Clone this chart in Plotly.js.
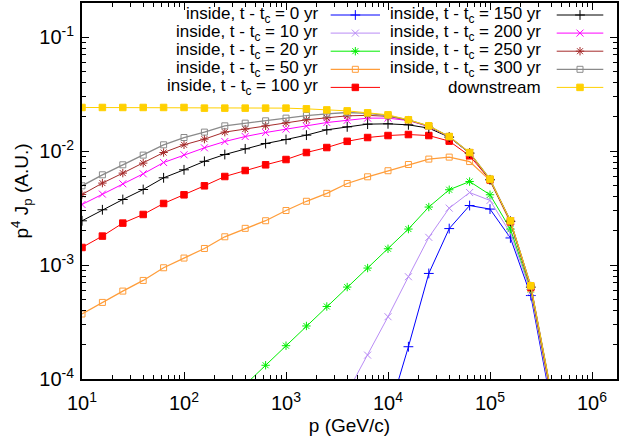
<!DOCTYPE html>
<html>
<head>
<meta charset="utf-8">
<script src="https://cdn.plot.ly/plotly-3.0.1.min.js"></script>
<style>html,body{margin:0;padding:0;background:#fff;}#chart{width:621px;height:441px;}</style>
</head>
<body>
<div id="chart"></div>
<script>
// momentum grid (GeV/c)
const P = [10, 15.85, 25.12, 39.81, 63.1, 100, 158.5, 251.2, 398.1, 631, 1000, 1585, 2512, 3981, 6310, 10000, 15850, 25120, 39810, 63100, 100000, 158500, 251200, 398100];

// p^4 J_p (A.U.)
const J_0 = [null,null,null,null,null,null,null,null,null,null,null,null,null,null,null, 4.8e-5, 1.92e-4, 8.44e-4, 2.09e-3, 3.33e-3, 3.10e-3, 1.73e-3, 5.4e-4, 6e-5];
const J_10 = [null,null,null,null,null,null,null,null,null,null,null,null,null, 7.6e-5, 1.62e-4, 3.52e-4, 7.9e-4, 1.75e-3, 3.16e-3, 4.33e-3, 3.69e-3, 1.91e-3, 5.8e-4, 6.5e-5];
const J_20 = [null,null,null,null,null,null,null,null, 8.9e-5, 1.32e-4, 1.96e-4, 2.92e-4, 4.33e-4, 6.41e-4, 9.41e-4, 1.39e-3, 2.07e-3, 3.23e-3, 4.58e-3, 5.41e-3, 4.14e-3, 2.07e-3, 6.1e-4, 7e-5];
const J_50 = [3.72e-4, 4.70e-4, 5.91e-4, 7.33e-4, 9.47e-4, 1.152e-3, 1.398e-3, 1.771e-3, 2.10e-3, 2.45e-3, 3.01e-3, 3.63e-3, 4.26e-3, 5.20e-3, 5.95e-3, 6.73e-3, 7.63e-3, 8.51e-3, 8.86e-3, 8.10e-3, 5.54e-3, 2.37e-3, 6.2e-4, 7e-5];
const J_100 = [1.427e-3, 1.796e-3, 2.335e-3, 2.779e-3, 3.471e-3, 4.136e-3, 4.961e-3, 5.986e-3, 6.758e-3, 7.583e-3, 8.439e-3, 9.72e-3, 1.075e-2, 1.219e-2, 1.316e-2, 1.370e-2, 1.398e-2, 1.370e-2, 1.224e-2, 9.10e-3, 5.6e-3, 2.40e-3, 6.4e-4, 7.4e-5];
const J_150 = [2.446e-3, 3.056e-3, 3.762e-3, 4.604e-3, 5.831e-3, 6.855e-3, 8.136e-3, 9.338e-3, 1.047e-2, 1.166e-2, 1.264e-2, 1.381e-2, 1.538e-2, 1.633e-2, 1.725e-2, 1.736e-2, 1.701e-2, 1.591e-2, 1.327e-2, 9.6e-3, 5.6e-3, 2.42e-3, 6.4e-4, 7.4e-5];
const J_200 = [3.401e-3, 4.195e-3, 5.167e-3, 6.323e-3, 7.943e-3, 9.28e-3, 1.069e-2, 1.214e-2, 1.343e-2, 1.456e-2, 1.560e-2, 1.657e-2, 1.782e-2, 1.863e-2, 1.948e-2, 1.948e-2, 1.855e-2, 1.643e-2, 1.335e-2, 9.65e-3, 5.65e-3, 2.43e-3, 6.5e-4, 7.5e-5];
const J_250 = [4.161e-3, 5.240e-3, 6.412e-3, 7.846e-3, 9.720e-3, 1.136e-2, 1.274e-2, 1.468e-2, 1.560e-2, 1.667e-2, 1.771e-2, 1.883e-2, 1.960e-2, 2.040e-2, 2.06e-2, 2.02e-2, 1.87e-2, 1.655e-2, 1.338e-2, 9.68e-3, 5.66e-3, 2.44e-3, 6.55e-4, 7.5e-5];
const J_300 = [4.961e-3, 6.196e-3, 7.583e-3, 9.224e-3, 1.136e-2, 1.316e-2, 1.468e-2, 1.667e-2, 1.760e-2, 1.844e-2, 1.948e-2, 2.053e-2, 2.125e-2, 2.182e-2, 2.14e-2, 2.05e-2, 1.88e-2, 1.66e-2, 1.34e-2, 9.7e-3, 5.67e-3, 2.44e-3, 6.55e-4, 7.6e-5];
const J_down = [0.02416, 0.02416, 0.02416, 0.02416, 0.02416, 0.02416, 0.02384, 0.02384, 0.02384, 0.02384, 0.02384, 0.0235, 0.0230, 0.02256, 0.02168, 0.02082, 0.01883, 0.01667, 0.01343, 0.00972, 0.00568, 0.002446, 0.000658, 7.6e-5];

const seriesNames = [
  'inside, t - t<sub>c</sub> = 0 yr', 'inside, t - t<sub>c</sub> = 10 yr', 'inside, t - t<sub>c</sub> = 20 yr',
  'inside, t - t<sub>c</sub> = 50 yr', 'inside, t - t<sub>c</sub> = 100 yr', 'inside, t - t<sub>c</sub> = 150 yr',
  'inside, t - t<sub>c</sub> = 200 yr', 'inside, t - t<sub>c</sub> = 250 yr', 'inside, t - t<sub>c</sub> = 300 yr',
  'downstream'
];
const seriesData = [J_0, J_10, J_20, J_50, J_100, J_150, J_200, J_250, J_300, J_down];

const xTickVals = [10, 100, 1e3, 1e4, 1e5, 1e6];
const xTickText = ['10<sup>1</sup>', '10<sup>2</sup>', '10<sup>3</sup>', '10<sup>4</sup>', '10<sup>5</sup>', '10<sup>6</sup>'];
const yTickVals = [1e-4, 1e-3, 1e-2, 1e-1];
const yTickText = ['10<sup>-4</sup>', '10<sup>-3</sup>', '10<sup>-2</sup>', '10<sup>-1</sup>'];

// styles
const styles = [
  {color:'#0000ff', symbol:'cross-thin-open', size:7, lw:1},
  {color:'#b98cf5', symbol:'x-thin-open', size:7, lw:1},
  {color:'#00ee00', symbol:'asterisk-open', size:7, lw:1},
  {color:'#ff9d3a', symbol:'square-open', size:6, lw:1.3},
  {color:'#ff0000', symbol:'square', size:6.5, lw:1},
  {color:'#000000', symbol:'cross-thin-open', size:7, lw:1},
  {color:'#ff00ff', symbol:'x-thin-open', size:7, lw:1},
  {color:'#a52a2a', symbol:'asterisk-open', size:7, lw:1},
  {color:'#8a8a8a', symbol:'square-open', size:6, lw:1.3},
  {color:'#ffd000', symbol:'square', size:6.5, lw:1}
];

function minorTicks(lo, hi) {
  const out = [];
  for (let e = lo; e <= hi; e++) for (let m = 2; m <= 9; m++) out.push(m * Math.pow(10, e));
  return out;
}

const FONT = 'Liberation Sans, Arial, Helvetica, sans-serif';
const traces = [];
const annotations = [];

seriesData.forEach((ys, k) => {
  const s = styles[k];
  traces.push({
    x: P, y: ys, type: 'scatter', mode: 'lines+markers', name: seriesNames[k],
    showlegend: false, cliponaxis: true,
    line: {color: s.color, width: s.lw},
    marker: {symbol: s.symbol, size: s.size, color: s.color, line: {color: s.color, width: 1}}
  });
});

// custom gnuplot-style key (text right-justified, sample on the right)
const plotH = 376, rowTop = 12, rowDy = 18.1;
const colText = [0.4449, 0.8622];
const colLine = [[0.4648, 0.5570], [0.8873, 0.9744]];
seriesData.forEach((ys, k) => {
  const s = styles[k];
  const col = k < 5 ? 0 : 1, row = k % 5;
  const yy = 1 - (rowTop + row * rowDy) / plotH;
  const xl = colLine[col];
  traces.push({
    x: [xl[0], (xl[0] + xl[1]) / 2, xl[1]], y: [yy, yy, yy], xaxis: 'x2', yaxis: 'y2',
    type: 'scatter', mode: 'lines+markers', showlegend: false, hoverinfo: 'skip',
    line: {color: s.color, width: s.lw},
    marker: {symbol: s.symbol, size: s.size, color: s.color, opacity: [0, 1, 0], line: {color: s.color, width: 1}}
  });
  annotations.push({
    xref: 'paper', yref: 'paper', x: colText[col], y: yy, xanchor: 'right', yanchor: 'middle',
    text: seriesNames[k], showarrow: false, font: {family: FONT, size: 17, color: '#000'}
  });
});

const axisCommon = {
  type: 'log', showgrid: false, zeroline: false, showline: true, linewidth: 2, linecolor: '#000',
  mirror: 'ticks', ticks: 'inside', ticklen: 7, tickwidth: 1, tickcolor: '#000',
  tickfont: {family: FONT, size: 20, color: '#000'}, tickmode: 'array'
};

const layout = {
  width: 621, height: 441,
  margin: {l: 82, r: 4, t: 3, b: 62},
  paper_bgcolor: '#fff', plot_bgcolor: '#fff',
  showlegend: false,
  xaxis: Object.assign({}, axisCommon, {
    range: [1, 6.245], tickvals: xTickVals, ticktext: xTickText, ticklabelstandoff: 5,
    minor: {tickmode: 'array', tickvals: minorTicks(1, 6), ticks: 'inside', ticklen: 4, tickwidth: 1, tickcolor: '#000', showgrid: false},
    title: {text: 'p (GeV/c)', font: {family: FONT, size: 19, color: '#000'}, standoff: 6}
  }),
  yaxis: Object.assign({}, axisCommon, {
    range: [-4, -0.7], tickvals: yTickVals, ticktext: yTickText, ticklabelstandoff: 2,
    minor: {tickmode: 'array', tickvals: minorTicks(-4, -1), ticks: 'inside', ticklen: 4, tickwidth: 1, tickcolor: '#000', showgrid: false},
    title: {text: 'p<sup>4</sup> J<sub>p</sub> (A.U.)', font: {family: FONT, size: 19, color: '#000'}, standoff: 6}
  }),
  xaxis2: {overlaying: 'x', anchor: 'y2', range: [0, 1], visible: false, fixedrange: true},
  yaxis2: {overlaying: 'y', anchor: 'x2', range: [0, 1], visible: false, fixedrange: true},
  annotations: annotations
};

Plotly.newPlot('chart', traces, layout, {staticPlot: true, displayModeBar: false});
</script>
</body>
</html>
